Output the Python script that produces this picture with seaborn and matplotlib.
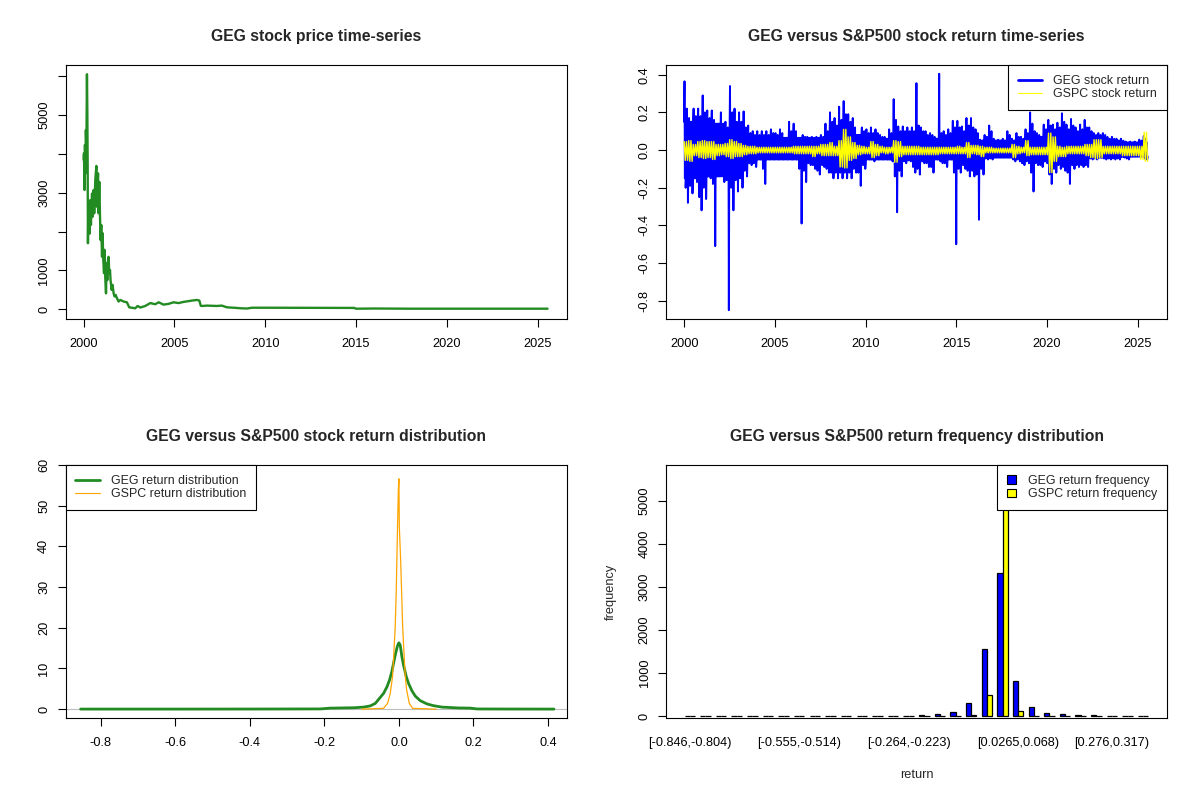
import numpy as np
import pandas as pd
import seaborn as sns
import matplotlib.pyplot as plt
from matplotlib.lines import Line2D
from matplotlib.patches import Patch

# ---- data ----

# GEG price (decimal year, price)
price_year = [2000.00, 2000.015, 2000.03, 2000.05, 2000.07, 2000.10, 2000.12, 2000.15, 2000.18, 2000.20,
              2000.22, 2000.235, 2000.25, 2000.29, 2000.33, 2000.36, 2000.40, 2000.46, 2000.49, 2000.55,
              2000.58, 2000.64, 2000.70, 2000.73, 2000.79, 2000.82, 2000.86, 2000.90, 2000.93, 2000.97,
              2001.01, 2001.04, 2001.08, 2001.12, 2001.15, 2001.19, 2001.23, 2001.26, 2001.30, 2001.34,
              2001.37, 2001.41, 2001.45, 2001.48, 2001.54, 2001.59, 2001.65, 2001.70, 2001.76, 2001.83,
              2001.92, 2002.02, 2002.20, 2002.38, 2002.51, 2002.66, 2002.84, 2002.97, 2003.12, 2003.39,
              2003.67, 2003.94, 2004.13, 2004.40, 2004.68, 2004.95, 2005.23, 2005.50, 2005.78, 2005.97,
              2006.24, 2006.37, 2006.45, 2006.55, 2006.79, 2007.34, 2007.60, 2007.90, 2008.26, 2008.70,
              2009.00, 2009.27, 2010.10, 2012.00, 2014.90, 2015.00, 2016.00, 2018.00, 2020.00, 2022.00,
              2025.55]
price_val = [3850, 4010, 3620, 3070, 4230, 3500, 4610, 4100, 6050, 5170,
             3700, 1700, 2300, 2640, 1950, 2810, 2170, 2980, 2380, 3070,
             2470, 3330, 3690, 2640, 3500, 2470, 3280, 2380, 1780, 2170,
             1350, 1960, 1270, 930, 1530, 800, 410, 1180, 750, 1270,
             1350, 930, 1010, 750, 500, 630, 410, 330, 370, 290,
             200, 240, 200, 180, 50, 40, 25, 85, 45, 85,
             160, 130, 180, 120, 140, 180, 160, 190, 210, 225,
             240, 225, 90, 85, 95, 85, 95, 50, 40, 25,
             20, 40, 40, 38, 35, 15, 20, 15, 15, 15,
             15]

# GEG daily return: largest up / down move per quarter (2000Q1 .. 2025Q2)
geg_hi = [0.365, 0.17, 0.22, 0.22,   0.29, 0.21, 0.21, 0.10,   0.20, 0.15, 0.34, 0.22,
          0.20, 0.205, 0.13, 0.10,   0.10, 0.10, 0.10, 0.11,   0.09, 0.11, 0.05, 0.15,
          0.14, 0.06, 0.08, 0.07,    0.07, 0.07, 0.08, 0.14,   0.20, 0.17, 0.23, 0.26,
          0.19, 0.17, 0.08, 0.12,    0.11, 0.12, 0.11, 0.08,   0.07, 0.11, 0.27, 0.125,
          0.125, 0.12, 0.12, 0.355,  0.12, 0.10, 0.09, 0.07,   0.405, 0.10, 0.11, 0.155,
          0.155, 0.125, 0.17, 0.17,  0.11, 0.055, 0.08, 0.13,  0.06, 0.055, 0.06, 0.10,
          0.06, 0.09, 0.07, 0.11,    0.20, 0.10, 0.08, 0.135,  0.16, 0.135, 0.145, 0.195,
          0.135, 0.165, 0.12, 0.135, 0.16, 0.12, 0.09, 0.09,   0.09, 0.07, 0.07, 0.06,
          0.06, 0.045, 0.045, 0.045, 0.055, 0.075]
geg_lo = [-0.28, -0.23, -0.17, -0.32,  -0.26, -0.15, -0.51, -0.12,  -0.17, -0.85, -0.32, -0.22,
          -0.20, -0.14, -0.08, -0.09,  -0.05, -0.18, -0.05, -0.05,  -0.05, -0.05, -0.05, -0.05,
          -0.05, -0.39, -0.17, -0.08,  -0.10, -0.13, -0.09, -0.12,  -0.15, -0.15, -0.15, -0.15,
          -0.15, -0.12, -0.19, -0.10,  -0.05, -0.06, -0.05, -0.05,  -0.05, -0.06, -0.33, -0.14,
          -0.07, -0.06, -0.12, -0.13,  -0.07, -0.09, -0.12, -0.05,  -0.07, -0.09, -0.05, -0.50,
          -0.12, -0.10, -0.14, -0.14,  -0.37, -0.13, -0.05, -0.05,  -0.035, -0.035, -0.035, -0.035,
          -0.06, -0.06, -0.08, -0.07,  -0.22, -0.08, -0.09, -0.07,  -0.18, -0.12, -0.10, -0.11,
          -0.18, -0.10, -0.09, -0.09,  -0.09, -0.05, -0.05, -0.04,  -0.05, -0.05, -0.05, -0.05,
          -0.04, -0.05, -0.03, -0.03,  -0.035, -0.05]
# second largest up / down move per quarter
geg_hi2 = [0.22, 0.15, 0.18, 0.18,  0.20, 0.17, 0.16, 0.08,  0.14, 0.12, 0.20, 0.15,
           0.15, 0.12, 0.09, 0.08,  0.08, 0.08, 0.08, 0.09,  0.08, 0.09, 0.045, 0.10,
           0.10, 0.05, 0.07, 0.06,  0.06, 0.06, 0.07, 0.10,  0.15, 0.13, 0.16, 0.19,
           0.15, 0.12, 0.07, 0.10,  0.09, 0.09, 0.09, 0.07,  0.06, 0.09, 0.16, 0.10,
           0.10, 0.10, 0.10, 0.13,  0.10, 0.08, 0.08, 0.06,  0.09, 0.08, 0.09, 0.12,
           0.12, 0.10, 0.13, 0.12,  0.09, 0.05, 0.07, 0.10,  0.05, 0.05, 0.05, 0.08,
           0.05, 0.07, 0.06, 0.09,  0.14, 0.09, 0.07, 0.11,  0.13, 0.11, 0.12, 0.15,
           0.11, 0.13, 0.10, 0.11,  0.12, 0.10, 0.08, 0.08,  0.08, 0.06, 0.06, 0.05,
           0.05, 0.04, 0.04, 0.04,  0.05, 0.06]
geg_lo2 = [-0.20, -0.19, -0.15, -0.25,  -0.20, -0.13, -0.18, -0.10,  -0.14, -0.16, -0.20, -0.16,
           -0.15, -0.11, -0.07, -0.07,  -0.045, -0.10, -0.045, -0.045,  -0.045, -0.045, -0.045, -0.045,
           -0.045, -0.10, -0.11, -0.07,  -0.08, -0.11, -0.08, -0.10,  -0.12, -0.12, -0.12, -0.12,
           -0.12, -0.10, -0.12, -0.08,  -0.045, -0.05, -0.045, -0.045,  -0.045, -0.05, -0.14, -0.11,
           -0.06, -0.055, -0.09, -0.10,  -0.06, -0.07, -0.09, -0.045,  -0.06, -0.07, -0.045, -0.12,
           -0.10, -0.08, -0.11, -0.11,  -0.13, -0.10, -0.045, -0.045,  -0.03, -0.03, -0.03, -0.03,
           -0.05, -0.05, -0.07, -0.06,  -0.12, -0.07, -0.08, -0.06,  -0.13, -0.10, -0.08, -0.09,
           -0.12, -0.08, -0.08, -0.08,  -0.08, -0.045, -0.045, -0.035,  -0.045, -0.045, -0.045, -0.045,
           -0.035, -0.045, -0.03, -0.03,  -0.03, -0.045]
# GEG typical daily band per year (2000 .. 2025)
geg_core_up = [0.15, 0.14, 0.10, 0.06, 0.065, 0.065, 0.065, 0.065, 0.10, 0.08, 0.06, 0.05, 0.06,
               0.06, 0.06, 0.06, 0.05, 0.05, 0.05, 0.07, 0.07, 0.07, 0.05, 0.05, 0.04, 0.04]
geg_core_dn = [-0.15, -0.14, -0.09, -0.06, -0.05, -0.05, -0.05, -0.05, -0.09, -0.07, -0.05, -0.05, -0.05,
               -0.05, -0.05, -0.05, -0.04, -0.04, -0.04, -0.06, -0.06, -0.06, -0.04, -0.04, -0.035, -0.035]

# S&P500 daily return: quarterly highs / lows
gspc_hi = [0.045, 0.05, 0.03, 0.045,  0.05, 0.045, 0.045, 0.03,  0.03, 0.035, 0.055, 0.045,
           0.035, 0.025, 0.02, 0.02,  0.015, 0.015, 0.015, 0.015,  0.015, 0.015, 0.015, 0.015,
           0.02, 0.02, 0.02, 0.02,    0.02, 0.02, 0.03, 0.03,      0.04, 0.02, 0.05, 0.11,
           0.07, 0.04, 0.025, 0.02,   0.015, 0.045, 0.03, 0.02,    0.015, 0.015, 0.05, 0.045,
           0.02, 0.02, 0.02, 0.02,    0.015, 0.015, 0.015, 0.015,  0.015, 0.015, 0.015, 0.015,
           0.02, 0.015, 0.04, 0.025,  0.025, 0.02, 0.015, 0.015,   0.01, 0.01, 0.01, 0.01,
           0.03, 0.02, 0.015, 0.05,   0.015, 0.015, 0.015, 0.015,  0.09, 0.07, 0.02, 0.015,
           0.02, 0.02, 0.02, 0.02,    0.03, 0.03, 0.055, 0.055,    0.02, 0.02, 0.02, 0.02,
           0.02, 0.02, 0.02, 0.02,    0.02, 0.095]
gspc_lo = [-0.055, -0.06, -0.03, -0.04,  -0.045, -0.04, -0.05, -0.03,  -0.025, -0.035, -0.045, -0.035,
           -0.035, -0.025, -0.02, -0.02,  -0.015, -0.015, -0.015, -0.015,  -0.015, -0.015, -0.015, -0.015,
           -0.02, -0.02, -0.02, -0.02,    -0.035, -0.02, -0.03, -0.03,     -0.03, -0.03, -0.09, -0.095,
           -0.055, -0.045, -0.025, -0.02, -0.02, -0.04, -0.03, -0.015,     -0.02, -0.015, -0.065, -0.035,
           -0.025, -0.025, -0.025, -0.025, -0.025, -0.025, -0.025, -0.025, -0.02, -0.02, -0.02, -0.02,
           -0.02, -0.02, -0.04, -0.02,    -0.025, -0.035, -0.015, -0.015,  -0.015, -0.015, -0.015, -0.015,
           -0.04, -0.02, -0.015, -0.03,   -0.025, -0.025, -0.025, -0.025,  -0.12, -0.06, -0.035, -0.035,
           -0.02, -0.02, -0.02, -0.02,    -0.03, -0.04, -0.045, -0.04,     -0.02, -0.02, -0.02, -0.02,
           -0.03, -0.03, -0.03, -0.03,    -0.05, -0.06]

# density curves
geg_dens_x = [-0.854, -0.60, -0.40, -0.265, -0.21, -0.185, -0.12, -0.095, -0.077, -0.0635,
              -0.05, -0.041, -0.032, -0.025, -0.019, -0.0143, -0.0098, -0.004, 0.0, 0.0036,
              0.008, 0.0125, 0.0197, 0.026, 0.035, 0.044, 0.057, 0.075, 0.093, 0.116,
              0.16, 0.192, 0.21, 0.30, 0.416]
geg_dens_y = [0.02, 0.02, 0.03, 0.05, 0.06, 0.25, 0.35, 0.5, 0.8, 1.4,
              2.9, 3.9, 5.5, 7.2, 9.2, 11.3, 13.3, 15.5, 16.3, 15.7,
              12.9, 10.8, 8.0, 6.3, 4.5, 3.2, 2.1, 1.3, 0.85, 0.5,
              0.3, 0.25, 0.05, 0.03, 0.02]
gspc_dens_x = [-0.10, -0.0413, -0.0306, -0.0234, -0.0172, -0.0145, -0.0100, -0.0073, -0.0055, -0.0037,
               -0.0015, 0.0, 0.0011, 0.0047, 0.0074, 0.0101, 0.0146, 0.0172, 0.0208, 0.028,
               0.0369, 0.10]
gspc_dens_y = [0.0, 0.2, 1.4, 3.8, 7.9, 12.0, 20.2, 28.4, 36.6, 44.8,
               54.0, 56.6, 44.8, 36.6, 28.4, 20.2, 12.0, 7.9, 4.7, 1.4,
               0.2, 0.0]

# return frequency table (30 bins)
bin_labels = ["[-0.846,-0.804)", "[-0.804,-0.763)", "[-0.763,-0.721)", "[-0.721,-0.68)", "[-0.68,-0.638)",
              "[-0.638,-0.597)", "[-0.597,-0.555)", "[-0.555,-0.514)", "[-0.514,-0.472)", "[-0.472,-0.431)",
              "[-0.431,-0.389)", "[-0.389,-0.348)", "[-0.348,-0.306)", "[-0.306,-0.264)", "[-0.264,-0.223)",
              "[-0.223,-0.181)", "[-0.181,-0.14)", "[-0.14,-0.0984)", "[-0.0984,-0.0569)", "[-0.0569,-0.0153)",
              "[-0.0153,0.0265)", "[0.0265,0.068)", "[0.068,0.109)", "[0.109,0.151)", "[0.151,0.192)",
              "[0.192,0.234)", "[0.234,0.276)", "[0.276,0.317)", "[0.317,0.359)", "[0.359,0.4]"]
geg_freq = [1, 0, 0, 0, 0, 0, 0, 0, 2, 0, 1, 1, 3, 4, 8, 23, 54, 100, 310, 1555,
            3330, 820, 217, 77, 54, 31, 12, 6, 3, 2]
gspc_freq = [0, 0, 0, 0, 0, 0, 0, 0, 0, 0, 0, 0, 0, 0, 0, 0, 0, 3, 23, 487,
             5790, 116, 3, 0, 0, 0, 0, 0, 0, 0]
shown_bins = [0, 7, 14, 21, 27]

# ---- build the dense return lines ----
geg_r = []
for q in range(len(geg_hi)):
    cu, cd = geg_core_up[q // 4], geg_core_dn[q // 4]
    geg_r += [cu, geg_hi[q], cd, cu, geg_lo2[q], cd, cu, geg_hi2[q], cd, cu, geg_lo[q], cd]
geg_t = np.linspace(2000.0, 2025.55, len(geg_r))

gspc_r = []
for q in range(len(gspc_hi)):
    gspc_r += [gspc_hi[q], gspc_lo[q], gspc_hi[q], gspc_lo[q]]
gspc_t = np.linspace(2000.0, 2025.55, len(gspc_r))

# ---- style ----
sns.set_theme(style="ticks")
plt.rcParams['font.family'] = ['Liberation Sans', 'DejaVu Sans']
plt.rcParams['axes.unicode_minus'] = False
plt.rcParams['path.simplify'] = False  # keep every spike of the dense lines

TICK_FS = 9.2
TITLE_FS = 11.3
LEG_FS = 8.9

fig = plt.figure(figsize=(12, 8), dpi=100)
ax1 = fig.add_axes([0.0546, 0.60125, 0.4179, 0.3175])
ax2 = fig.add_axes([0.555, 0.60125, 0.4175, 0.3175])
ax3 = fig.add_axes([0.0546, 0.1019, 0.4179, 0.3169])
ax4 = fig.add_axes([0.555, 0.1019, 0.4175, 0.3169])


def r_style(ax, title):
    for s in ax.spines.values():
        s.set_visible(True)
        s.set_color('black')
        s.set_linewidth(0.8)
    ax.set_facecolor('white')
    ax.tick_params(axis='both', direction='out', length=6, width=0.8, color='black',
                   labelsize=TICK_FS, labelcolor='black')
    ax.tick_params(axis='x', pad=7.5)
    ax.tick_params(axis='y', pad=5, labelrotation=90)
    ax.set_title(title, fontsize=TITLE_FS, fontweight='bold', pad=17.6)
    ax.set_xlabel('')
    ax.set_ylabel('')


def leg(ax, handles, loc, hl=2.0, hh=0.7, htp=0.9):
    lg = ax.legend(handles=handles, loc=loc, frameon=True, fancybox=False, framealpha=1,
                   edgecolor='black', borderaxespad=0, fontsize=LEG_FS, handlelength=hl,
                   handleheight=hh, handletextpad=htp, borderpad=0.8, labelspacing=0.12)
    lg.get_frame().set_linewidth(0.8)
    return lg


# 1. price time-series
sns.lineplot(x=price_year, y=price_val, color='#228B22', lw=1.7, sort=False, estimator=None, ax=ax1)
r_style(ax1, 'GEG stock price time-series')
ax1.set_xlim(1999.0, 2026.62)
ax1.set_ylim(-250, 6287)
ax1.set_xticks([2000, 2005, 2010, 2015, 2020, 2025])
ax1.set_xticklabels(['2000', '2005', '2010', '2015', '2020', '2025'])
ax1.set_yticks([0, 1000, 2000, 3000, 4000, 5000, 6000])
ax1.set_yticklabels(['0', '1000', '', '3000', '', '5000', ''])

# 2. return time-series
sns.lineplot(x=geg_t, y=geg_r, color='#0000FF', lw=1.4, sort=False, estimator=None, ax=ax2)
sns.lineplot(x=gspc_t, y=gspc_r, color='#FFFF00', lw=1.0, sort=False, estimator=None, ax=ax2)
r_style(ax2, 'GEG versus S&P500 stock return time-series')
ax2.set_xlim(1999.0, 2026.62)
ax2.set_ylim(-0.897, 0.4515)
ax2.set_xticks([2000, 2005, 2010, 2015, 2020, 2025])
ax2.set_xticklabels(['2000', '2005', '2010', '2015', '2020', '2025'])
ax2.set_yticks([-0.8, -0.6, -0.4, -0.2, 0.0, 0.2, 0.4])
ax2.set_yticklabels(['-0.8', '-0.6', '-0.4', '-0.2', '0.0', '0.2', '0.4'])
leg(ax2, [Line2D([], [], color='#0000FF', lw=2, label='GEG stock return'),
          Line2D([], [], color='#FFFF00', lw=0.8, label='GSPC stock return')], 'upper right')

# 3. return density
ax3.axhline(0, color='#BEBEBE', lw=0.8, zorder=1)
sns.lineplot(x=geg_dens_x, y=geg_dens_y, color='#228B22', lw=2, sort=False, estimator=None, ax=ax3)
sns.lineplot(x=gspc_dens_x, y=gspc_dens_y, color='#FFA500', lw=0.9, sort=False, estimator=None, ax=ax3)
r_style(ax3, 'GEG versus S&P500 stock return distribution')
ax3.set_xlim(-0.8945, 0.451)
ax3.set_ylim(-2.29, 60)
ax3.set_xticks([-0.8, -0.6, -0.4, -0.2, 0.0, 0.2, 0.4])
ax3.set_xticklabels(['-0.8', '-0.6', '-0.4', '-0.2', '0.0', '0.2', '0.4'])
ax3.set_yticks([0, 10, 20, 30, 40, 50, 60])
ax3.set_yticklabels(['0', '10', '20', '30', '40', '50', '60'])
leg(ax3, [Line2D([], [], color='#228B22', lw=2, label='GEG return distribution'),
          Line2D([], [], color='#FFA500', lw=0.8, label='GSPC return distribution')], 'upper left')

# 4. frequency bars
freq_df = pd.DataFrame({
    'bin': bin_labels + bin_labels,
    'freq': geg_freq + gspc_freq,
    'series': ['GEG'] * len(bin_labels) + ['GSPC'] * len(bin_labels),
})
sns.barplot(data=freq_df, x='bin', y='freq', hue='series', order=bin_labels,
            hue_order=['GEG', 'GSPC'], palette=['#0000FF', '#FFFF00'], saturation=1,
            width=2 / 3, edgecolor='black', linewidth=0.9, errorbar=None, legend=False, ax=ax4)
r_style(ax4, 'GEG versus S&P500 return frequency distribution')
ax4.set_xlim(-1.52, 30.52)
ax4.set_ylim(-58, 5835)
ax4.set_xticks(shown_bins)
ax4.set_xticklabels([bin_labels[i] for i in shown_bins])
ax4.tick_params(axis='x', length=0, pad=13.2)
ax4.set_yticks([0, 1000, 2000, 3000, 4000, 5000])
ax4.set_yticklabels(['0', '1000', '2000', '3000', '4000', '5000'])
ax4.set_xlabel('return', fontsize=TICK_FS)
ax4.xaxis.label.set_va('center')
ax4.xaxis.set_label_coords(0.5, -0.223)
ax4.set_ylabel('frequency', fontsize=TICK_FS)
ax4.yaxis.label.set_va('center')
ax4.yaxis.set_label_coords(-0.11, 0.5)
leg(ax4, [Patch(facecolor='#0000FF', edgecolor='black', lw=0.8, label='GEG return frequency'),
          Patch(facecolor='#FFFF00', edgecolor='black', lw=0.8, label='GSPC return frequency')],
    'upper right', hl=0.7, hh=0.7, htp=1.0)

for ax in (ax1, ax2, ax3, ax4):
    plt.setp(ax.get_yticklabels(), rotation=90, va='center')

fig.savefig('out.png', dpi=100, facecolor='white')
